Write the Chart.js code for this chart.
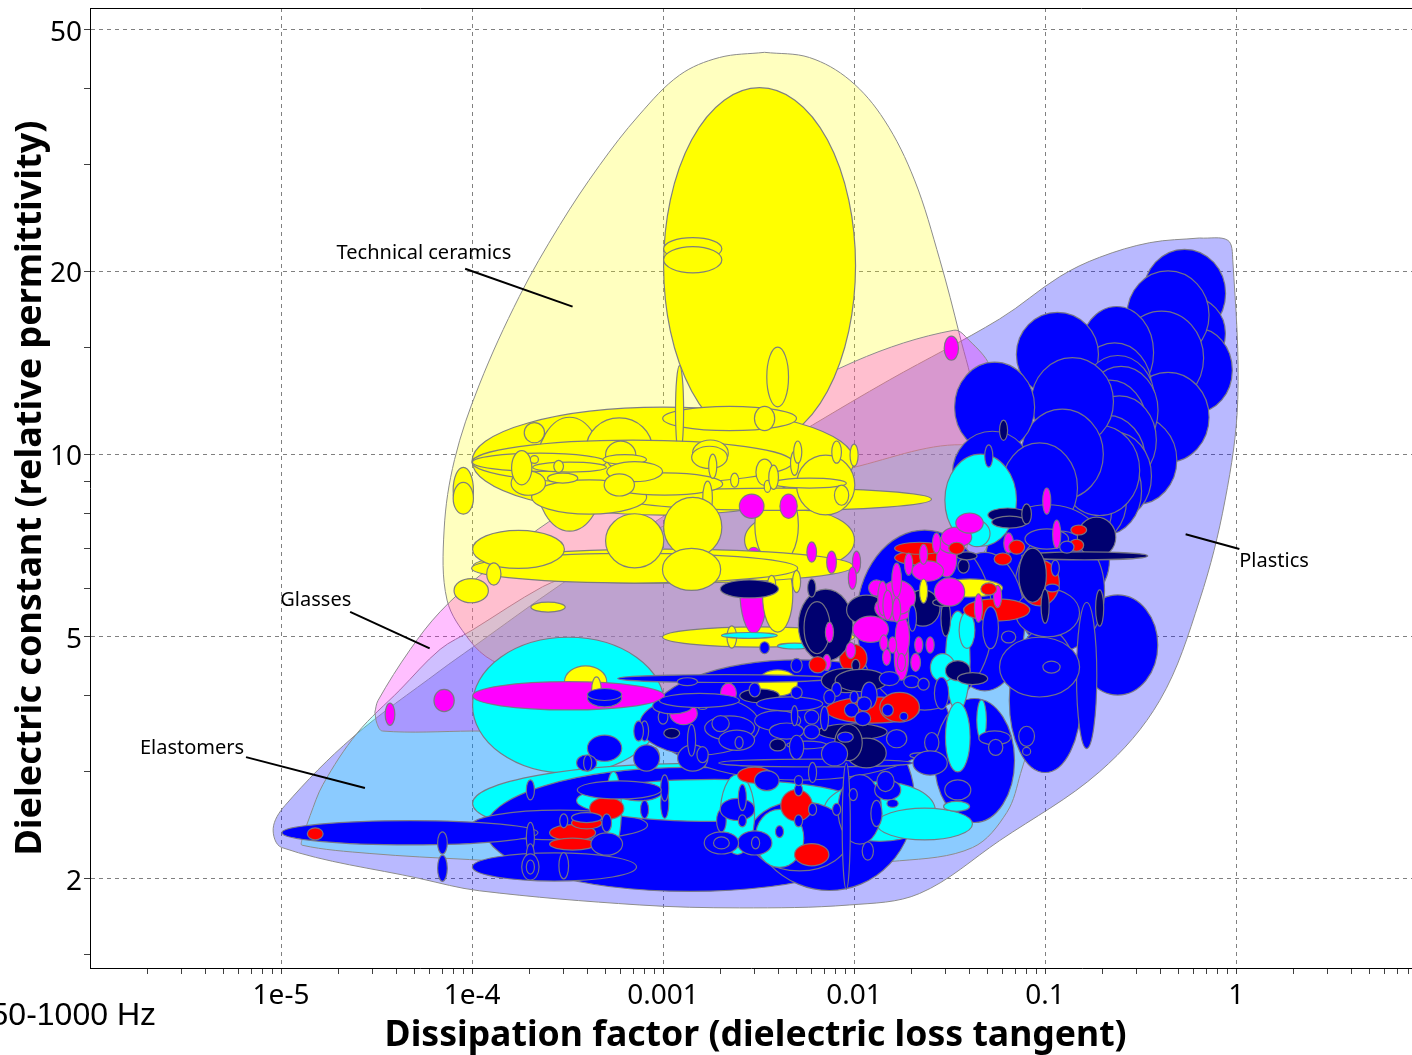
<!DOCTYPE html>
<html>
<head>
<meta charset="utf-8">
<title>Dielectric constant vs dissipation factor</title>
<script src="https://cdn.jsdelivr.net/npm/chart.js@4/dist/chart.umd.js"></script>
<style>
  html, body { margin: 0; padding: 0; background: #fff; overflow: hidden; }
  canvas { display: block; filter: blur(0.4px); }
</style>
</head>
<body>
<canvas id="chart" width="1412" height="1055"></canvas>
<script>
const xMin = 1e-6, xMax = 8.33, yMin = 1.425, yMax = 54.3;

const xMajorTicks = [1e-5, 1e-4, 0.001, 0.01, 0.1, 1];
const xTickLabels = ["1e-5", "1e-4", "0.001", "0.01", "0.1", "1"];
const yMajorTicks = [2, 5, 10, 20, 50];
const yTickLabels = ["2", "5", "10", "20", "50"];
const yMinorTicks = [1.5, 3, 4, 6, 7, 8, 9, 15, 30, 40];
const xMinorSteps = [2, 3, 4, 5, 6, 7, 8, 9];
const xDecades = [1e-6, 1e-5, 1e-4, 0.001, 0.01, 0.1, 1];

// material family envelopes, walked round the outline
const plasticsX = [0.644, 0.905, 0.96, 1.02, 0.875, 0.644, 0.398, 0.193, 0.0578, 0.022, 0.0095, 0.00251, 0.00075, 0.000109, 5.35e-5, 1.01e-5, 0.91e-5, 1.05e-5, 2.38e-5, 6.8e-5, 1e-4, 2.98e-4, 0.00155, 0.00606, 0.0153, 0.0578, 0.119, 0.193, 0.353, 0.644];
const plasticsY = [22.7, 22.5, 20.9, 12.3, 8.4, 5.75, 3.93, 3.0, 2.31, 1.89, 1.81, 1.79, 1.81, 1.91, 2.0, 2.25, 2.42, 2.64, 3.42, 4.4, 4.8, 6.13, 8.62, 11.17, 13.25, 16.7, 19.6, 21.1, 22.3, 22.7];
const elastomersX = [1.29e-5, 1.42e-5, 1.66e-5, 2.5e-5, 4.19e-5, 6.8e-5, 1e-4, 2.34e-4, 3.65e-4, 0.00155, 0.0098, 0.04, 0.0653, 0.094, 0.094, 0.0744, 0.063, 0.0417, 0.0173, 0.00155, 9.7e-5, 2.92e-5, 1.29e-5, 1.29e-5];
const elastomersY = [2.33, 2.54, 2.86, 3.47, 4.09, 4.77, 5.13, 6.05, 6.4, 8.1, 9.5, 10.35, 9.05, 5.75, 3.93, 2.98, 2.57, 2.25, 2.14, 2.06, 2.15, 2.2, 2.27, 2.33];
const ceramicsX = [0.0034, 0.00584, 0.0095, 0.0144, 0.0207, 0.0281, 0.0357, 0.0427, 0.0427, 0.0316, 0.0095, 0.00155, 2.87e-4, 1.28e-4, 9.7e-5, 7.4e-5, 7.14e-5, 8.1e-5, 1.09e-4, 1.77e-4, 2.87e-4, 4.65e-4, 7.5e-4, 0.00122, 0.00197, 0.0034];
const ceramicsY = [45.9, 45, 41.3, 35.5, 28.3, 20.9, 15.7, 12.3, 9.4, 5.75, 4.24, 3.93, 4.09, 4.57, 4.94, 5.75, 7.5, 9.8, 13, 18.2, 23.8, 29.9, 36.2, 42.1, 45, 45.9];
const glassesX = [3.1e-5, 3.18e-5, 3.4e-5, 1e-4, 8.5e-4, 0.0052, 0.0316, 0.0735, 0.0513, 0.04, 0.0333, 0.01, 0.00155, 2.87e-4, 1.09e-4, 6.8e-5, 4.75e-5, 3.22e-5, 3.1e-5];
const glassesY = [3.76, 3.6, 3.5, 3.5, 3.53, 4.09, 5.75, 10.1, 14, 15.4, 16, 14.2, 10.5, 7.94, 6.3, 5.5, 4.77, 3.93, 3.76];

// material bubbles: [x, y, x spread factor, y spread factor], bubble runs x/f..x*f
const cyanLarge = [
  [3.2e-4, 3.86, 3.18, 1.294], [0.00155, 2.66, 15.4, 1.164]
];
const blueLarge = [
  [0.00138, 2.41, 11.8, 1.265], [0.00743, 2.69, 2.79, 1.407], [0.00518, 3.65, 6.1, 1.256], [0.00155, 3.58, 2.06, 1.12],
  [2.87e-4, 2.45, 2.89, 1.058], [2.7e-4, 2.09, 2.69, 1.055], [4.73e-5, 2.38, 4.68, 1.047],
  [0.537, 18.4, 1.64, 1.182], [0.59, 15.8, 1.49, 1.146], [0.62, 13.75, 1.54, 1.173], [0.44, 16.95, 1.64, 1.182],
  [0.407, 14.4, 1.66, 1.195], [0.44, 11.5, 1.64, 1.186], [0.302, 9.77, 1.62, 1.182], [0.237, 14.7, 1.56, 1.191],
  [0.231, 12.9, 1.56, 1.182], [0.116, 14.6, 1.64, 1.173], [0.24, 12.3, 1.56, 1.182], [0.25, 11.8, 1.56, 1.182],
  [0.218, 11.2, 1.56, 1.182], [0.245, 10.55, 1.56, 1.182], [0.212, 9.77, 1.58, 1.186], [0.231, 9.2, 1.56, 1.182],
  [0.205, 8.7, 1.56, 1.182], [0.171, 8.4, 1.56, 1.182], [0.161, 9.05, 1.58, 1.182], [0.143, 8.1, 1.56, 1.173],
  [0.193, 9.4, 1.62, 1.186], [0.139, 12.2, 1.64, 1.182], [0.123, 10, 1.64, 1.186], [0.0544, 11.95, 1.62, 1.186],
  [0.053, 9.3, 1.62, 1.173], [0.0935, 8.8, 1.58, 1.186], [0.24, 4.85, 1.62, 1.209], [0.103, 6.7, 2.11, 1.232],
  [0.119, 5.95, 1.72, 1.256], [0.1, 3.93, 1.54, 1.314], [0.0427, 3.13, 1.62, 1.265], [0.165, 4.32, 1.13, 1.319],
  [0.0483, 5.3, 1.62, 1.3], [0.103, 5.48, 1.47, 1.095], [0.0935, 4.46, 1.62, 1.12]
];
const yellowSet = [
  [0.0032, 20.45, 3.18, 1.963], [0.001, 9.74, 10, 1.227], [0.00223, 11.45, 2.24, 1.047], [3.24e-4, 9.27, 1.51, 1.241],
  [5.9e-4, 10.2, 1.49, 1.125], [0.00518, 7.22, 1.94, 1.12], [0.00393, 7.64, 1.3, 1.164], [0.00407, 8.43, 6.25, 1.043],
  [0.0071, 8.9, 1.42, 1.12],
  [0.00316, 5, 3.18, 1.039], [0.00398, 4.2, 1.27, 1.051], [9.9e-5, 5.96, 1.23, 1.047], [2.5e-4, 5.6, 1.23, 1.019],
  [9e-5, 8.72, 1.13, 1.091], [9e-5, 8.46, 1.13, 1.062], [0.00143, 21.8, 1.42, 1.043], [0.00143, 20.9, 1.42, 1.051],
  [0.00398, 13.4, 1.14, 1.12], [0.0034, 11.45, 1.13, 1.047], [0.00122, 11.8, 1.05, 1.186],
  [6.9e-4, 9.7, 6.9, 1.087], [4.1e-4, 8.5, 2, 1.067], [0.00102, 8.93, 2.01, 1.043], [2.25e-4, 9.7, 2.24, 1.035],
  [3.24e-4, 9.52, 1.56, 1.019], [0.00584, 8.96, 1.56, 1.019], [2.12e-4, 10.85, 1.13, 1.039], [1.97e-4, 8.96, 1.23, 1.047],
  [1.82e-4, 9.5, 1.13, 1.067], [2.12e-4, 9.8, 1.05, 1.015], [2.84e-4, 9.55, 1.06, 1.023], [2.98e-4, 9.13, 1.2, 1.019],
  [6e-4, 9.96, 1.2, 1.055], [6.3e-4, 9.8, 1.3, 1.019], [7.1e-4, 9.36, 1.4, 1.039], [5.9e-4, 8.9, 1.2, 1.043],
  [0.00177, 10.04, 1.24, 1.051], [0.00175, 9.88, 1.24, 1.043], [0.00182, 9.55, 1.05, 1.047], [0.00237, 9.06, 1.05, 1.027],
  [0.0034, 9.34, 1.11, 1.051], [0.00352, 8.85, 1.04, 1.023], [0.00379, 9.16, 1.06, 1.047], [0.00488, 9.66, 1.05, 1.047],
  [0.00507, 10.08, 1.05, 1.043], [0.0081, 10.08, 1.06, 1.043], [0.01, 9.96, 1.05, 1.043], [0.0086, 8.56, 1.09, 1.039],
  [0.00171, 8.46, 1.06, 1.067], [0.00229, 5, 1.06, 1.043]
];
const magentaBehind = [
  [0.00298, 5.97, 1.18, 1.177]
];
const yellowBands = [
  [0.00398, 5.86, 1.2, 1.151], [0.001, 6.54, 9.9, 1.067], [7.1e-4, 6.49, 7.14, 1.058], [1.75e-4, 6.97, 1.74, 1.075],
  [7.1e-4, 7.2, 1.42, 1.108], [0.00143, 7.58, 1.42, 1.12], [0.00141, 6.46, 1.42, 1.083], [1.3e-4, 6.35, 1.09, 1.043],
  [0.0037, 6.1, 1.05, 1.035], [0.005, 6.17, 1.05, 1.043]
];
const cyanMiddle = [
  [0.046, 8.4, 1.54, 1.191], [0.00186, 2.69, 5.28, 1.083], [0.0136, 2.58, 1.96, 1.12], [0.0234, 2.46, 1.78, 1.062]
];
const blueMiddle = [
  [0.0234, 5.33, 2.27, 1.407], [0.00518, 2.35, 1.83, 1.141], [0.0107, 2.6, 1.3, 1.141], [7.5e-4, 2.78, 1.32, 1.035],
  [0.102, 7.25, 1.3, 1.039], [0.0063, 3.1, 3.22, 1.015], [0.0021, 4.27, 3.63, 1.015], [0.0091, 2.44, 1.05, 1.27]
];
const cyanTop = [
  [0.0344, 2.63, 1.17, 1.019], [0.00245, 2.55, 1.23, 1.164], [0.00407, 2.33, 1.34, 1.116], [5.5e-4, 2.6, 1.1, 1.155],
  [0.0349, 4.56, 1.16, 1.209], [0.0349, 3.42, 1.16, 1.141], [0.039, 5.13, 1.1, 1.071], [0.0291, 4.45, 1.16, 1.055],
  [0.00283, 5.03, 1.4, 1.011], [0.00488, 4.83, 1.23, 1.011], [0.044, 7.4, 1.17, 1.051], [0.0465, 3.65, 1.06, 1.079]
];
const redLarge = [
  [0.0558, 5.54, 1.49, 1.043], [0.0935, 6.14, 1.27, 1.091], [0.0125, 3.79, 1.76, 1.051], [0.0173, 3.83, 1.27, 1.058],
  [0.022, 6.75, 1.35, 1.027], [0.022, 7, 1.35, 1.023], [0.0099, 4.61, 1.18, 1.055], [0.00302, 2.96, 1.23, 1.031]
];
const yellowSmall = [
  [3.93e-4, 4.22, 1.29, 1.062], [0.0402, 6.02, 1.49, 1.035]
];
const navySet = [
  [0.0071, 5.23, 1.39, 1.146], [0.0064, 5.18, 1.17, 1.104], [0.006, 6.02, 1.05, 1.035], [0.0116, 5.54, 1.27, 1.058],
  [0.0229, 5.58, 1.23, 1.071], [0.0302, 5.37, 1.06, 1.071], [0.0294, 5.7, 1.14, 1.015], [0.0374, 6.54, 1.07, 1.027],
  [0.039, 6.8, 1.13, 1.015], [0.0637, 7.94, 1.27, 1.027], [0.0652, 7.73, 1.24, 1.023], [0.08, 7.97, 1.06, 1.039],
  [0.186, 7.3, 1.26, 1.079], [0.161, 6.8, 2.14, 1.015], [0.086, 6.32, 1.18, 1.108], [0.193, 5.58, 1.05, 1.071],
  [0.1, 5.62, 1.05, 1.067], [0.0349, 4.4, 1.16, 1.039], [0.0417, 4.27, 1.2, 1.023], [0.0091, 4.24, 1.35, 1.047],
  [0.0102, 4.49, 1.05, 1.023], [0.0606, 10.95, 1.05, 1.039], [0.00111, 3.47, 1.1, 1.019], [0.00398, 3.32, 1.1, 1.023],
  [0.0098, 3.49, 1.52, 1.031], [0.0032, 4, 1.27, 1.027], [0.0116, 3.22, 1.27, 1.058], [0.00283, 6, 1.42, 1.035],
  [0.0109, 4.24, 1.37, 1.043], [0.00935, 3.35, 1.18, 1.071]
];
const magentaSet = [
  [3.2e-4, 4, 3.18, 1.055], [0.00291, 8.21, 1.16, 1.047], [0.00454, 8.21, 1.11, 1.047],
  [0.0323, 14.95, 1.09, 1.047], [0.006, 6.9, 1.06, 1.039], [0.00762, 6.64, 1.06, 1.043], [0.0103, 6.64, 1.05, 1.043],
  [0.0098, 6.25, 1.05, 1.043], [3.72e-5, 3.73, 1.06, 1.043], [7.14e-5, 3.93, 1.13, 1.043], [0.00128, 3.74, 1.18, 1.043],
  [0.0022, 4.04, 1.1, 1.039], [0.102, 8.37, 1.05, 1.051], [0.115, 7.38, 1.05, 1.055], [0.0122, 5.15, 1.24, 1.051],
  [0.0305, 6.7, 1.13, 1.067], [0.0243, 6.42, 1.21, 1.039], [0.0177, 4.63, 1.09, 1.091], [0.0179, 5, 1.09, 1.079],
  [0.0163, 5.58, 1.27, 1.051], [0.0169, 5.81, 1.24, 1.067], [0.0131, 6.02, 1.1, 1.031], [0.0141, 5.79, 1.06, 1.067],
  [0.0167, 6.2, 1.06, 1.067], [0.015, 5.64, 1.06, 1.058], [0.0167, 5.54, 1.05, 1.047], [0.0316, 5.93, 1.2, 1.055],
  [0.0323, 7.14, 1.17, 1.039], [0.0344, 7.3, 1.2, 1.039], [0.0402, 7.7, 1.18, 1.039], [0.027, 7.14, 1.05, 1.039],
  [0.0231, 6.84, 1.05, 1.039], [0.0193, 6.59, 1.05, 1.043], [0.0143, 4.89, 1.05, 1.031], [0.0159, 4.85, 1.05, 1.031],
  [0.0148, 4.63, 1.05, 1.031], [0.0177, 4.54, 1.05, 1.035], [0.021, 4.54, 1.06, 1.035], [0.0218, 4.85, 1.05, 1.031],
  [0.025, 4.85, 1.05, 1.031], [0.0644, 7.14, 1.06, 1.039], [0.0448, 5.58, 1.05, 1.055], [0.0564, 5.83, 1.05, 1.043],
  [0.00743, 5.09, 1.05, 1.039], [0.0096, 4.75, 1.06, 1.031], [0.0072, 4.54, 1.05, 1.031]
];
const yellowTop = [
  [0.0231, 5.95, 1.05, 1.047], [4.48e-4, 4.09, 1.06, 1.051]
];
const redSmall = [
  [0.0344, 7, 1.1, 1.023], [0.15, 7.5, 1.1, 1.019], [0.146, 7.08, 1.09, 1.023], [0.071, 7.03, 1.1, 1.027],
  [0.06, 6.72, 1.11, 1.023], [0.0507, 6, 1.1, 1.023], [0.00645, 4.5, 1.11, 1.031], [0.005, 2.64, 1.21, 1.062],
  [0.006, 2.19, 1.23, 1.043], [1.51e-5, 2.37, 1.1, 1.023], [5.07e-4, 2.61, 1.23, 1.043], [3.36e-4, 2.38, 1.32, 1.031],
  [3.36e-4, 2.28, 1.32, 1.023], [3.98e-4, 2.47, 1.2, 1.023]
];
const blueSmall = [
  [0.00134, 4.22, 1.13, 1.015], [0.00155, 3.95, 1.1, 1.015], [0.00161, 3.84, 1.06, 1.011], [0.001, 3.69, 1.06, 1.027],
  [8e-4, 3.5, 1.05, 1.039], [7.45e-4, 3.5, 1.06, 1.039], [0.00223, 3.54, 1.35, 1.047], [0.00243, 3.38, 1.24, 1.039],
  [0.00398, 3.64, 1.32, 1.039], [0.00443, 3.5, 1.23, 1.031], [0.00112, 3.85, 1.27, 1.031], [0.00155, 3.93, 1.62, 1.027],
  [0.0046, 3.88, 1.49, 1.027], [0.00564, 3.32, 1.27, 1.015], [0.005, 3.29, 1.09, 1.047], [0.0079, 3.21, 1.17, 1.047],
  [0.00143, 3.16, 1.2, 1.051], [0.00141, 3.38, 1.05, 1.062], [0.002, 3.6, 1.11, 1.031], [0.0025, 3.35, 1.05, 1.023],
  [0.00161, 3.2, 1.07, 1.031], [9e-4, 3.18, 1.06, 1.035], [8.2e-4, 3.16, 1.17, 1.051], [0.00302, 4.09, 1.07, 1.027],
  [0.005, 4.05, 1.07, 1.023], [0.00488, 3.71, 1.04, 1.039], [0.006, 3.69, 1.09, 1.027], [0.006, 3.49, 1.1, 1.027],
  [0.007, 3.67, 1.05, 1.047], [0.0081, 4.1, 1.06, 1.027], [0.00743, 3.98, 1.07, 1.027], [0.01, 3.98, 1.05, 1.023],
  [0.012, 4.01, 1.1, 1.051], [0.0153, 4.27, 1.13, 1.027], [0.02, 4.22, 1.1, 1.023], [0.0231, 4.18, 1.07, 1.023],
  [0.0287, 4.04, 1.09, 1.062], [0.0113, 3.88, 1.09, 1.027], [0.0097, 3.79, 1.09, 1.027], [0.0111, 3.67, 1.1, 1.027],
  [0.015, 3.79, 1.07, 1.023], [0.0182, 3.7, 1.05, 1.015], [0.009, 3.42, 1.1, 1.019], [0.0167, 3.4, 1.13, 1.035],
  [0.0255, 3.35, 1.09, 1.039], [0.0229, 3.19, 1.17, 1.011], [0.025, 3.1, 1.23, 1.047], [0.015, 2.8, 1.17, 1.039],
  [0.0146, 2.89, 1.11, 1.039], [0.0159, 2.66, 1.07, 1.015], [0.0131, 2.56, 1.07, 1.051], [0.0118, 2.22, 1.07, 1.035],
  [0.0099, 2.75, 1.05, 1.023], [0.0081, 2.6, 1.05, 1.023], [0.00606, 2.6, 1.05, 1.023], [0.00512, 2.49, 1.05, 1.023],
  [0.00512, 2.8, 1.05, 1.023], [0.00407, 2.39, 1.05, 1.023], [0.00302, 2.29, 1.23, 1.047], [0.00305, 2.29, 1.05, 1.023],
  [0.00202, 2.29, 1.23, 1.043], [0.00202, 2.29, 1.1, 1.023], [0.00202, 2.49, 1.06, 1.043], [0.00245, 2.6, 1.23, 1.043],
  [0.0026, 2.49, 1.05, 1.023], [0.0026, 2.72, 1.05, 1.051], [8e-4, 2.6, 1.05, 1.035], [0.00102, 2.66, 1.05, 1.058],
  [0.00102, 2.82, 1.05, 1.051], [0.0544, 3.41, 1.21, 1.027], [0.0551, 3.29, 1.09, 1.031], [0.08, 3.43, 1.1, 1.039],
  [0.08, 3.24, 1.05, 1.015], [0.0349, 2.8, 1.17, 1.039], [0.108, 4.46, 1.11, 1.023], [0.0644, 5, 1.09, 1.023],
  [0.109, 6.02, 1.09, 1.015], [0.113, 6.49, 1.05, 1.031], [0.13, 7.03, 1.09, 1.023], [0.0202, 5.37, 1.05, 1.051],
  [0.0518, 5.18, 1.1, 1.083], [0.005, 4.49, 1.07, 1.027], [0.0034, 4.8, 1.06, 1.023], [0.00606, 2.99, 1.05, 1.039],
  [0.00512, 2.9, 1.05, 1.019], [0.00349, 2.9, 1.16, 1.039], [4.94e-4, 3.28, 1.23, 1.051], [3.98e-4, 3.1, 1.13, 1.031],
  [4.03e-4, 3.1, 1.05, 1.031], [4.94e-4, 3.97, 1.23, 1.035], [4.94e-4, 4.02, 1.23, 1.023], [2.02e-4, 2.8, 1.05, 1.039],
  [7e-5, 2.29, 1.06, 1.043], [7e-5, 2.08, 1.06, 1.051], [2.02e-4, 2.34, 1.05, 1.058], [2.02e-4, 2.18, 1.05, 1.047],
  [2.02e-4, 2.09, 1.11, 1.051], [2.02e-4, 2.09, 1.05, 1.027], [3.02e-4, 2.49, 1.05, 1.027], [3.02e-4, 2.1, 1.06, 1.051],
  [3.98e-4, 2.52, 1.2, 1.019], [5.07e-4, 2.47, 1.06, 1.035], [5.07e-4, 2.28, 1.21, 1.043], [5.9e-4, 2.8, 1.66, 1.035],
  [0.0507, 9.93, 1.05, 1.043]
];

// leader lines and family names
const leaderNames = ["Technical ceramics", "Glasses", "Elastomers", "Plastics"];
const labelX = [5.6e-5, 1.52e-5, 0.342e-5, 1.58];
const labelY = [21.45, 5.74, 3.275, 6.65];
const leaderX = [[9.2e-5, 3.36e-4], [2.3e-5, 6e-5], [0.656e-5, 2.75e-5], [0.544, 1.04]];
const leaderY = [[20.2, 17.5], [5.5, 4.79], [3.17, 2.82], [7.38, 6.98]];

function outline(name, xs, ys, color) {
  return {
    label: name,
    data: xs.map((x, i) => ({ x: x, y: ys[i] })),
    showLine: true,
    tension: 0.35,
    fill: "shape",
    backgroundColor: color,
    borderColor: "#8c8c8c",
    borderWidth: 1,
    pointRadius: 0
  };
}

function bubbles(name, rows, color) {
  return {
    label: name,
    ellipses: true,
    data: rows.map(r => ({ x: r[0], y: r[1], fx: r[2], fy: r[3] })),
    backgroundColor: color,
    showLine: false,
    pointRadius: 0
  };
}

const datasets = [
  outline("Plastics", plasticsX, plasticsY, "rgba(0,0,255,0.275)"),
  outline("Elastomers", elastomersX, elastomersY, "rgba(0,255,255,0.25)"),
  outline("Technical ceramics", ceramicsX, ceramicsY, "rgba(255,255,0,0.25)"),
  outline("Glasses", glassesX, glassesY, "rgba(255,0,255,0.25)"),
  bubbles("cyan large", cyanLarge, "#00ffff"),
  bubbles("blue large", blueLarge, "#0000ff"),
  bubbles("yellow", yellowSet, "#ffff00"),
  bubbles("magenta behind", magentaBehind, "#ff00ff"),
  bubbles("yellow bands", yellowBands, "#ffff00"),
  bubbles("cyan middle", cyanMiddle, "#00ffff"),
  bubbles("blue middle", blueMiddle, "#0000ff"),
  bubbles("cyan top", cyanTop, "#00ffff"),
  bubbles("red large", redLarge, "#ff0000"),
  bubbles("yellow small", yellowSmall, "#ffff00"),
  bubbles("navy", navySet, "#000070"),
  bubbles("magenta", magentaSet, "#ff00ff"),
  bubbles("yellow top", yellowTop, "#ffff00"),
  bubbles("red small", redSmall, "#ff0000"),
  bubbles("blue small", blueSmall, "#0000ff")
];

leaderX.forEach((xs, i) => {
  datasets.push({
    label: leaderNames[i] + " leader",
    data: xs.map((x, j) => ({ x: x, y: leaderY[i][j] })),
    showLine: true,
    borderColor: "#000",
    borderWidth: 2,
    pointRadius: 0
  });
});

// chart.js paints the highest order first, so keep list order = paint order
datasets.forEach((d, i) => { d.order = datasets.length - i; });

const ellipsePlugin = {
  id: "ellipses",
  afterDatasetDraw(chart, args) {
    const ds = chart.data.datasets[args.index];
    if (!ds.ellipses) return;
    const xs = chart.scales.x, ys = chart.scales.y, ctx = chart.ctx;
    ctx.save();
    ctx.fillStyle = ds.backgroundColor;
    ctx.strokeStyle = "rgba(120,120,130,0.95)";
    ctx.lineWidth = 1.2;
    ds.data.forEach(p => {
      const x0 = xs.getPixelForValue(p.x / p.fx), x1 = xs.getPixelForValue(p.x * p.fx);
      const y0 = ys.getPixelForValue(p.y / p.fy), y1 = ys.getPixelForValue(p.y * p.fy);
      ctx.beginPath();
      ctx.ellipse((x0 + x1) / 2, (y0 + y1) / 2, Math.abs(x1 - x0) / 2, Math.abs(y1 - y0) / 2, 0, 0, Math.PI * 2);
      ctx.fill();
      ctx.stroke();
    });
    ctx.restore();
  }
};

const notesPlugin = {
  id: "notes",
  afterDraw(chart) {
    const { ctx, chartArea, scales } = chart;
    ctx.save();
    // frame line along the top
    ctx.strokeStyle = "#000";
    ctx.lineWidth = 1;
    ctx.beginPath();
    ctx.moveTo(chartArea.left, chartArea.top + 0.5);
    ctx.lineTo(chartArea.right, chartArea.top + 0.5);
    ctx.stroke();
    ctx.fillStyle = "#000";
    ctx.textAlign = "center";
    ctx.textBaseline = "middle";
    ctx.font = '20px "Noto Sans"';
    leaderNames.forEach((name, i) => {
      ctx.fillText(name, scales.x.getPixelForValue(labelX[i]), scales.y.getPixelForValue(labelY[i]));
    });
    ctx.textAlign = "right";
    ctx.font = '32px "Liberation Sans"';
    ctx.fillText("50-1000 Hz", 156, 1016);
    ctx.restore();
  }
};

function xTicks() {
  const out = [];
  xDecades.forEach(d => xMinorSteps.forEach(m => {
    const v = d * m;
    if (v < xMax) out.push({ value: v });
  }));
  xMajorTicks.forEach(v => out.push({ value: v }));
  return out.sort((a, b) => a.value - b.value);
}

function yTicks() {
  return yMinorTicks.concat(yMajorTicks).sort((a, b) => a - b).map(v => ({ value: v }));
}

function clearPadding(scale) {
  scale.paddingTop = scale.paddingBottom = scale.paddingLeft = scale.paddingRight = 0;
}

new Chart(document.getElementById("chart"), {
  type: "scatter",
  data: { datasets: datasets },
  plugins: [ellipsePlugin, notesPlugin],
  options: {
    responsive: false,
    animation: false,
    layout: { padding: { top: 8, left: 0, right: 0, bottom: 0 } },
    plugins: { legend: { display: false }, tooltip: { enabled: false } },
    events: [],
    scales: {
      x: {
        type: "logarithmic",
        min: xMin,
        max: xMax,
        afterBuildTicks: s => { s.ticks = xTicks(); },
        afterFit: s => { s.height = 87; clearPadding(s); },
        border: { color: "#000", width: 1, dash: [4, 4] },
        grid: {
          color: c => (c.tick && xMajorTicks.includes(c.tick.value) ? "#808080" : "rgba(0,0,0,0)"),
          tickColor: "#404040",
          tickLength: 6
        },
        ticks: {
          autoSkip: false,
          maxRotation: 0,
          padding: 5,
          color: "#000",
          font: { family: "Noto Sans", size: 28 },
          callback: v => {
            const i = xMajorTicks.indexOf(v);
            return i >= 0 ? xTickLabels[i] : "";
          }
        },
        title: {
          display: true,
          text: "\u00a0Dissipation factor (dielectric loss tangent)",
          color: "#000",
          font: { family: "Noto Sans", size: 35.6, weight: "bold" },
          padding: { top: 0, bottom: -2 }
        }
      },
      y: {
        type: "logarithmic",
        min: yMin,
        max: yMax,
        afterBuildTicks: s => { s.ticks = yTicks(); },
        afterFit: s => { s.width = 90; clearPadding(s); },
        border: { color: "#000", width: 1, dash: [4, 4] },
        grid: {
          color: c => (c.tick && yMajorTicks.includes(c.tick.value) ? "#808080" : "rgba(0,0,0,0)"),
          tickColor: "#404040",
          tickLength: 6
        },
        ticks: {
          autoSkip: false,
          padding: 2,
          labelOffset: 3,
          color: "#000",
          font: { family: "Noto Sans", size: 28 },
          callback: v => {
            const i = yMajorTicks.indexOf(v);
            return i >= 0 ? yTickLabels[i] : "";
          }
        },
        title: {
          display: true,
          text: "Dielectric constant (relative permittivity)",
          color: "#000",
          font: { family: "Noto Sans", size: 36, weight: "bold" },
          padding: { top: 9, bottom: 0 }
        }
      }
    }
  }
});
</script>
</body>
</html>
